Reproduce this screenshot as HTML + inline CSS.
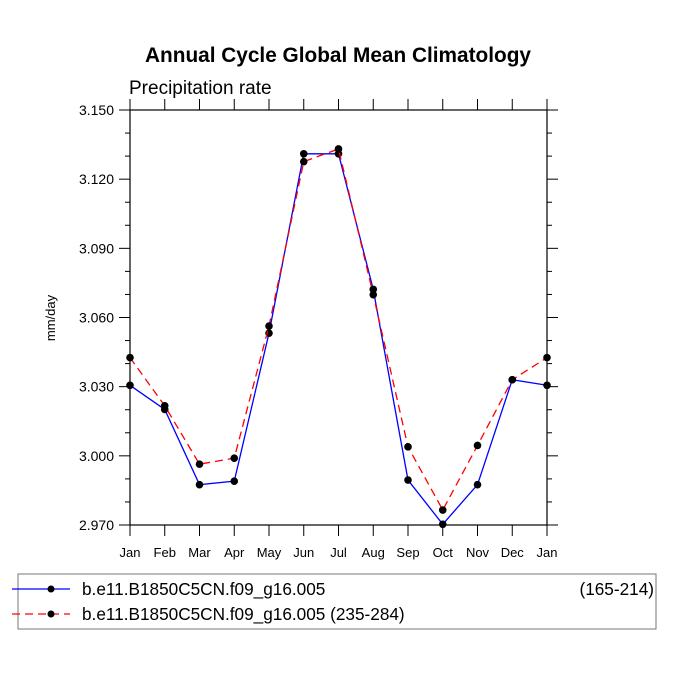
<!DOCTYPE html>
<html><head><meta charset="utf-8"><style>
body{margin:0;background:#fff;width:675px;height:676px;overflow:hidden}
svg text{font-family:"Liberation Sans",Arial,sans-serif}
</style></head><body>
<svg id="chart" width="675" height="676" xmlns="http://www.w3.org/2000/svg">
<text x="338" y="62" text-anchor="middle" font-size="20.8" font-weight="bold">Annual Cycle Global Mean Climatology</text>
<text x="129" y="94" font-size="19">Precipitation rate</text>
<text transform="translate(55,318) rotate(-90)" text-anchor="middle" font-size="13">mm/day</text>
<g id="axes"></g><g id="series"></g>
<rect x="18" y="574" width="638" height="55" fill="none" stroke="#777" stroke-width="1"/>
<g>
<line x1="12" y1="589" x2="70" y2="589" stroke="#00f" stroke-width="1.2"/><circle cx="51" cy="589" r="3.5"/>
<text x="82" y="595" font-size="17.2">b.e11.B1850C5CN.f09_g16.005</text>
<text x="654" y="595" font-size="17.2" text-anchor="end">(165-214)</text></g>
<g>
<line x1="12" y1="614" x2="70" y2="614" stroke="#f00" stroke-width="1.2" stroke-dasharray="8,5"/><circle cx="51" cy="614" r="3.5"/>
<text x="82" y="620" font-size="17.2">b.e11.B1850C5CN.f09_g16.005 (235-284)</text></g>
</svg>
<script>
const months=["Jan","Feb","Mar","Apr","May","Jun","Jul","Aug","Sep","Oct","Nov","Dec","Jan"];
const blueVals=[3.0306,3.0201,2.9875,2.9890,3.0532,3.1310,3.1310,3.0722,2.9895,2.9703,2.9875,3.0330,3.0306];
const redVals=[3.0426,3.0217,2.9964,2.9990,3.0563,3.1276,3.1331,3.0699,3.0039,2.9765,3.0045,3.0330,3.0426];
const yTicks=[2.970,3.000,3.030,3.060,3.090,3.120,3.150];
const L=130,R=547,T=110,B=525,ymin=2.97,ymax=3.15;
const NS="http://www.w3.org/2000/svg";
const X=i=>L+(R-L)*i/(months.length-1);
const Y=v=>B-(v-ymin)/(ymax-ymin)*(B-T);
function mk(t,a,p){const e=document.createElementNS(NS,t);for(const k in a)e.setAttribute(k,a[k]);p.appendChild(e);return e;}
const ax=document.getElementById('axes');
const frame=mk('rect',{x:L,y:T,width:R-L,height:B-T,fill:'none',stroke:'#000','stroke-width':1.2},ax);


for(let v=ymin;v<=ymax+1e-9;v+=0.01){
 const y=Y(v);const major=Math.abs(((v-ymin)/0.03)-Math.round((v-ymin)/0.03))<1e-6;const len=major?11:5;
 const t1=mk('line',{x1:L-len,y1:y,x2:L,y2:y,stroke:'#000','stroke-width':1},ax);
 
 
 const t2=mk('line',{x1:R,y1:y,x2:R+len,y2:y,stroke:'#000','stroke-width':1},ax);
 
 
}
yTicks.forEach(v=>{const t=mk('text',{x:L-16,y:Y(v)+5,'text-anchor':'end','font-size':14},ax);t.textContent=v.toFixed(3);
 
 });
months.forEach((m,i)=>{const x=X(i);
 const a=mk('line',{x1:x,y1:B,x2:x,y2:B+11,stroke:'#000'},ax);
 
 
 const b=mk('line',{x1:x,y1:T-11,x2:x,y2:T,stroke:'#000'},ax);
 
 
 const t=mk('text',{x:x,y:B+32,'text-anchor':'middle','font-size':13},ax);t.textContent=m;
 
 });
const sg=document.getElementById('series');
function draw(vals,color,dash,name){
 const pl=mk('polyline',{points:vals.map((v,i)=>X(i)+','+Y(v)).join(' '),fill:'none',stroke:color,'stroke-width':1.3,'stroke-dasharray':dash},sg);
 
 
 vals.forEach((v,i)=>{const c=mk('circle',{cx:X(i),cy:Y(v),r:3.8,fill:'#000'},sg);
  
  });
}
draw(blueVals,'#00f','none','blue-series');
draw(redVals,'#f00','8,5','red-series');
</script>
</body></html>
